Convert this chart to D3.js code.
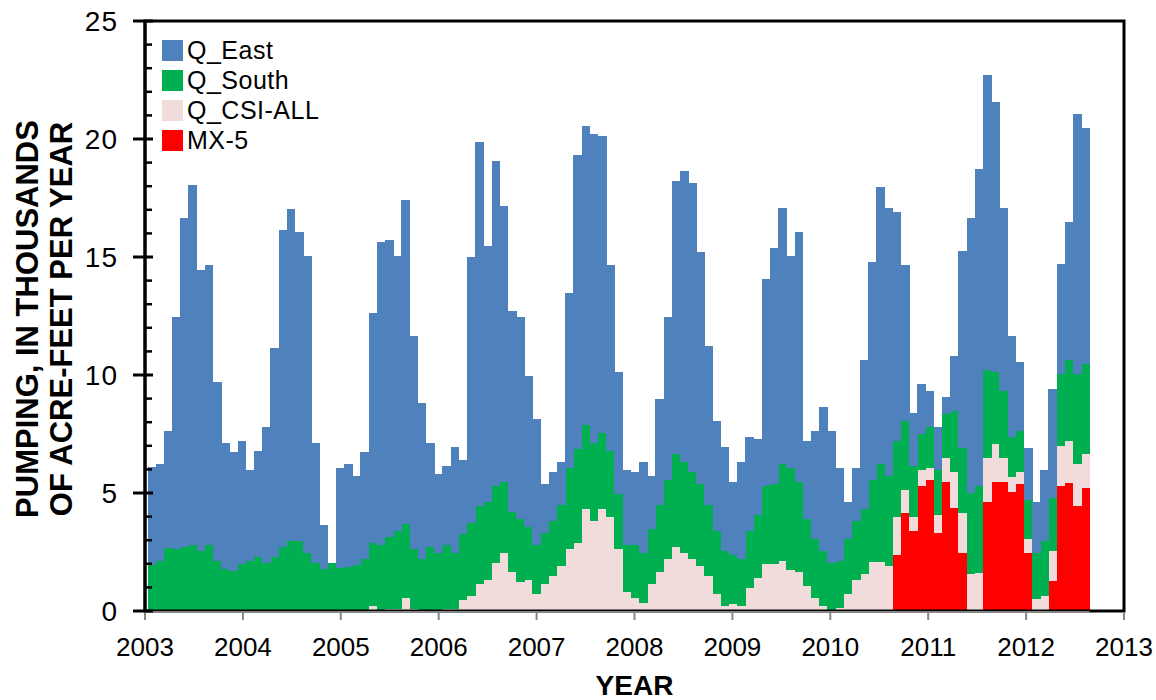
<!DOCTYPE html>
<html><head><meta charset="utf-8">
<script src="https://cdn.jsdelivr.net/npm/d3@7/dist/d3.min.js"></script>
<style>
body{margin:0;background:#fff}
text{font-family:Arial,"Liberation Sans",sans-serif}
</style>
</head><body>
<svg id="chart" width="1156" height="700"></svg>
<script>
// ---- DATA (thousands of acre-feet per year, monthly, Jan 2003 onward) ----
const qEast = [4.17,4.11,4.96,9.86,13.92,15.27,11.92,11.87,7.60,5.35,5.01,5.24,
3.85,4.50,5.75,8.84,13.42,14.10,13.11,12.60,5.08,1.85,0.00,4.24,
4.35,3.77,4.53,9.77,12.86,12.60,11.68,13.70,9.01,6.58,4.42,3.35,
3.36,4.50,3.15,11.25,15.44,10.84,13.75,11.68,8.50,8.57,6.41,5.34,
2.09,2.09,1.83,7.43,12.43,12.68,13.10,12.60,7.86,5.18,3.17,3.09,
3.84,2.26,4.49,6.92,11.59,12.33,12.25,9.85,6.75,4.67,4.40,3.08,
4.08,4.00,3.25,8.74,9.98,10.83,9.00,10.57,3.32,4.59,6.07,5.59,
3.92,1.58,2.25,6.33,9.25,11.74,11.34,9.67,6.60,2.24,2.14,1.50,
1.81,0.72,2.32,8.35,11.65,13.43,12.50,11.44,7.74,4.26,2.91,2.19,
2.16,2.99,4.59,4.66,5.86,11.02,10.00];
const qSouth = [1.95,2.12,2.68,2.61,2.72,2.78,2.54,2.78,2.12,1.78,1.71,1.98,
2.12,2.29,2.05,2.29,2.72,2.95,2.95,2.46,2.05,1.78,2.05,1.81,
1.88,1.95,2.19,2.66,2.78,3.02,3.28,3.14,2.53,2.17,2.71,2.41,
2.68,2.36,2.78,3.10,3.32,3.33,3.25,3.01,2.57,2.67,2.24,2.08,
2.15,2.33,2.59,3.42,3.99,3.57,3.33,3.23,2.82,2.32,1.99,2.25,
2.14,2.32,2.84,3.33,3.92,3.84,3.67,3.49,3.01,2.66,2.33,2.08,
1.99,2.42,2.65,3.33,3.42,4.10,4.34,3.84,2.84,2.49,2.33,1.99,
1.99,2.33,2.49,2.76,3.49,4.17,3.83,3.25,2.92,2.17,1.52,1.76,
1.90,1.86,2.57,2.75,3.42,3.68,3.74,3.03,2.85,1.73,1.76,1.65,
1.96,2.33,2.24,3.05,3.40,3.81,3.84];
const qCSI = [0,0,0,0,0,0,0,0,0,0,0,0,
0,0,0,0,0,0,0,0,0,0,0,0,
0,0,0,0.21,0,0.10,0.10,0.56,0.10,0.05,0,0.05,
0.10,0.10,0.47,0.64,1.13,1.30,2.05,2.46,1.64,1.22,1.31,0.72,
1.14,1.47,1.89,2.64,2.89,4.31,3.80,4.31,3.97,2.64,0.81,0.55,
0.33,1.14,1.64,2.22,2.72,2.47,2.22,1.89,1.47,0.72,0.23,0.31,
0.23,0.97,1.40,1.98,1.98,2.13,1.72,1.64,1.06,0.56,0.23,0.06,
0.14,0.72,1.31,1.55,2.06,2.06,1.89,1.58,0.99,0.58,0.67,0.50,
0.75,0.99,1.52,1.67,1.57,1.62,1.84,1.60,0.99,0.60,0.50,0.58,
0.51,0.65,1.27,1.69,1.81,1.77,1.41];
const mx5 = [0,0,0,0,0,0,0,0,0,0,0,0,
0,0,0,0,0,0,0,0,0,0,0,0,
0,0,0,0,0,0,0,0,0,0,0,0,
0,0,0,0,0,0,0,0,0,0,0,0,
0,0,0,0,0,0,0,0,0,0,0,0,
0,0,0,0,0,0,0,0,0,0,0,0,
0,0,0,0,0,0,0,0,0,0,0,0,
0,0,0,0,0,0,0,2.39,4.14,3.39,5.30,5.55,
3.32,5.48,4.38,2.47,0,0,4.63,5.48,5.48,5.06,5.38,2.47,
0,0,1.29,5.30,5.41,4.46,5.23];
const seriesKeys = ["MX-5","Q_CSI-ALL","Q_South","Q_East"];   // stacking order, bottom first
const legendKeys = ["Q_East","Q_South","Q_CSI-ALL","MX-5"];
const seriesColors = {"Q_East":"#4F81BD","Q_South":"#00B050","Q_CSI-ALL":"#F2DCDB","MX-5":"#FF0000"};
const yTicks = [0,5,10,15,20,25];
const yMinorTicks = [1,2,3,4,6,7,8,9,11,12,13,14,16,17,18,19,21,22,23,24];
const yearTicks = [2003,2004,2005,2006,2007,2008,2009,2010,2011,2012,2013];
const firstBarYear = 2003.026, lastBarEndYear = 2012.647;

// ---- BUILD ----
const N = qEast.length;
const rows = d3.range(N).map(i => ({"i":i,"Q_East":qEast[i],"Q_South":qSouth[i],"Q_CSI-ALL":qCSI[i],"MX-5":mx5[i]}));
const stack = d3.stack().keys(seriesKeys)(rows);

const L = 145, R = 1124, T = 21, B = 611;
const svg = d3.select("#chart");
const xYear = d3.scaleLinear().domain([2003, 2013]).range([L, R]);
const xBar = d3.scaleLinear().domain([0, N]).range([xYear(firstBarYear), xYear(lastBarEndYear)]);
const y = d3.scaleLinear().domain([0, 25]).range([B, T]);

const g = svg.append("g");
stack.forEach(s => {
  g.append("g").attr("fill", seriesColors[s.key]).attr("shape-rendering","crispEdges")
   .selectAll("rect").data(s).join("rect")
   .attr("x", d => xBar(d.data.i))
   .attr("width", d => xBar(d.data.i + 1) - xBar(d.data.i) + 0.4)
   .attr("y", d => y(d[1]))
   .attr("height", d => Math.max(0, y(d[0]) - y(d[1])));
});

// frame
svg.append("rect").attr("x", L).attr("y", T).attr("width", R - L).attr("height", B - T)
  .attr("fill","none").attr("stroke","#000").attr("stroke-width",3);
// grey category baseline under bars
svg.append("line").attr("x1", L).attr("x2", xBar(N)).attr("y1", B + 1).attr("y2", B + 1)
  .attr("stroke","#868686").attr("stroke-width",2);

// x ticks and labels
const xt = svg.append("g");
xt.selectAll("line").data(yearTicks).join("line")
  .attr("x1", d => xYear(d)).attr("x2", d => xYear(d)).attr("y1", B + 1).attr("y2", B + 9)
  .attr("stroke","#868686").attr("stroke-width",2);
xt.selectAll("text").data(yearTicks).join("text")
  .attr("x", d => xYear(d)).attr("y", 656).attr("text-anchor","middle")
  .attr("font-size", 26).attr("fill","#000").text(d => d);

// y axis
const ya = svg.append("g");
ya.append("line").attr("x1", L).attr("x2", L).attr("y1", T).attr("y2", B).attr("stroke","#000").attr("stroke-width",3);
ya.selectAll("line.maj").data(yTicks).join("line").attr("class","maj")
  .attr("x1", L - 12).attr("x2", L + 8).attr("y1", d => y(d)).attr("y2", d => y(d))
  .attr("stroke","#000").attr("stroke-width",3);
ya.selectAll("line.min").data(yMinorTicks).join("line").attr("class","min")
  .attr("x1", L).attr("x2", L + 7).attr("y1", d => y(d)).attr("y2", d => y(d))
  .attr("stroke","#000").attr("stroke-width",2.5);
ya.selectAll("text").data(yTicks).join("text")
  .attr("x", 118).attr("y", d => y(d)).attr("dy","0.36em").attr("text-anchor","end")
  .attr("font-size", 28).attr("letter-spacing", 1).attr("fill","#000").text(d => d);

// axis titles
const yt = svg.append("text").attr("transform","translate(0,319) rotate(-90)")
  .attr("text-anchor","middle").attr("font-weight","bold").attr("font-size",31).attr("fill","#000");
yt.append("tspan").attr("x",0).attr("y",38).text("PUMPING, IN THOUSANDS");
yt.append("tspan").attr("x",0).attr("y",72).text("OF ACRE-FEET PER YEAR");
svg.append("text").attr("x", (L + R) / 2).attr("y", 695).attr("text-anchor","middle")
  .attr("font-weight","bold").attr("font-size",28).attr("fill","#000").text("YEAR");

// legend
const lg = svg.append("g");
const li = lg.selectAll("g").data(legendKeys).join("g")
  .attr("transform", (d, i) => `translate(162,${40 + i * 30})`);
li.append("rect").attr("width",21).attr("height",21).attr("fill", d => seriesColors[d]);
li.append("text").attr("x",25).attr("y",19).attr("font-size",25).attr("letter-spacing",0.5).attr("fill","#000").text(d => d);
</script>
</body></html>
